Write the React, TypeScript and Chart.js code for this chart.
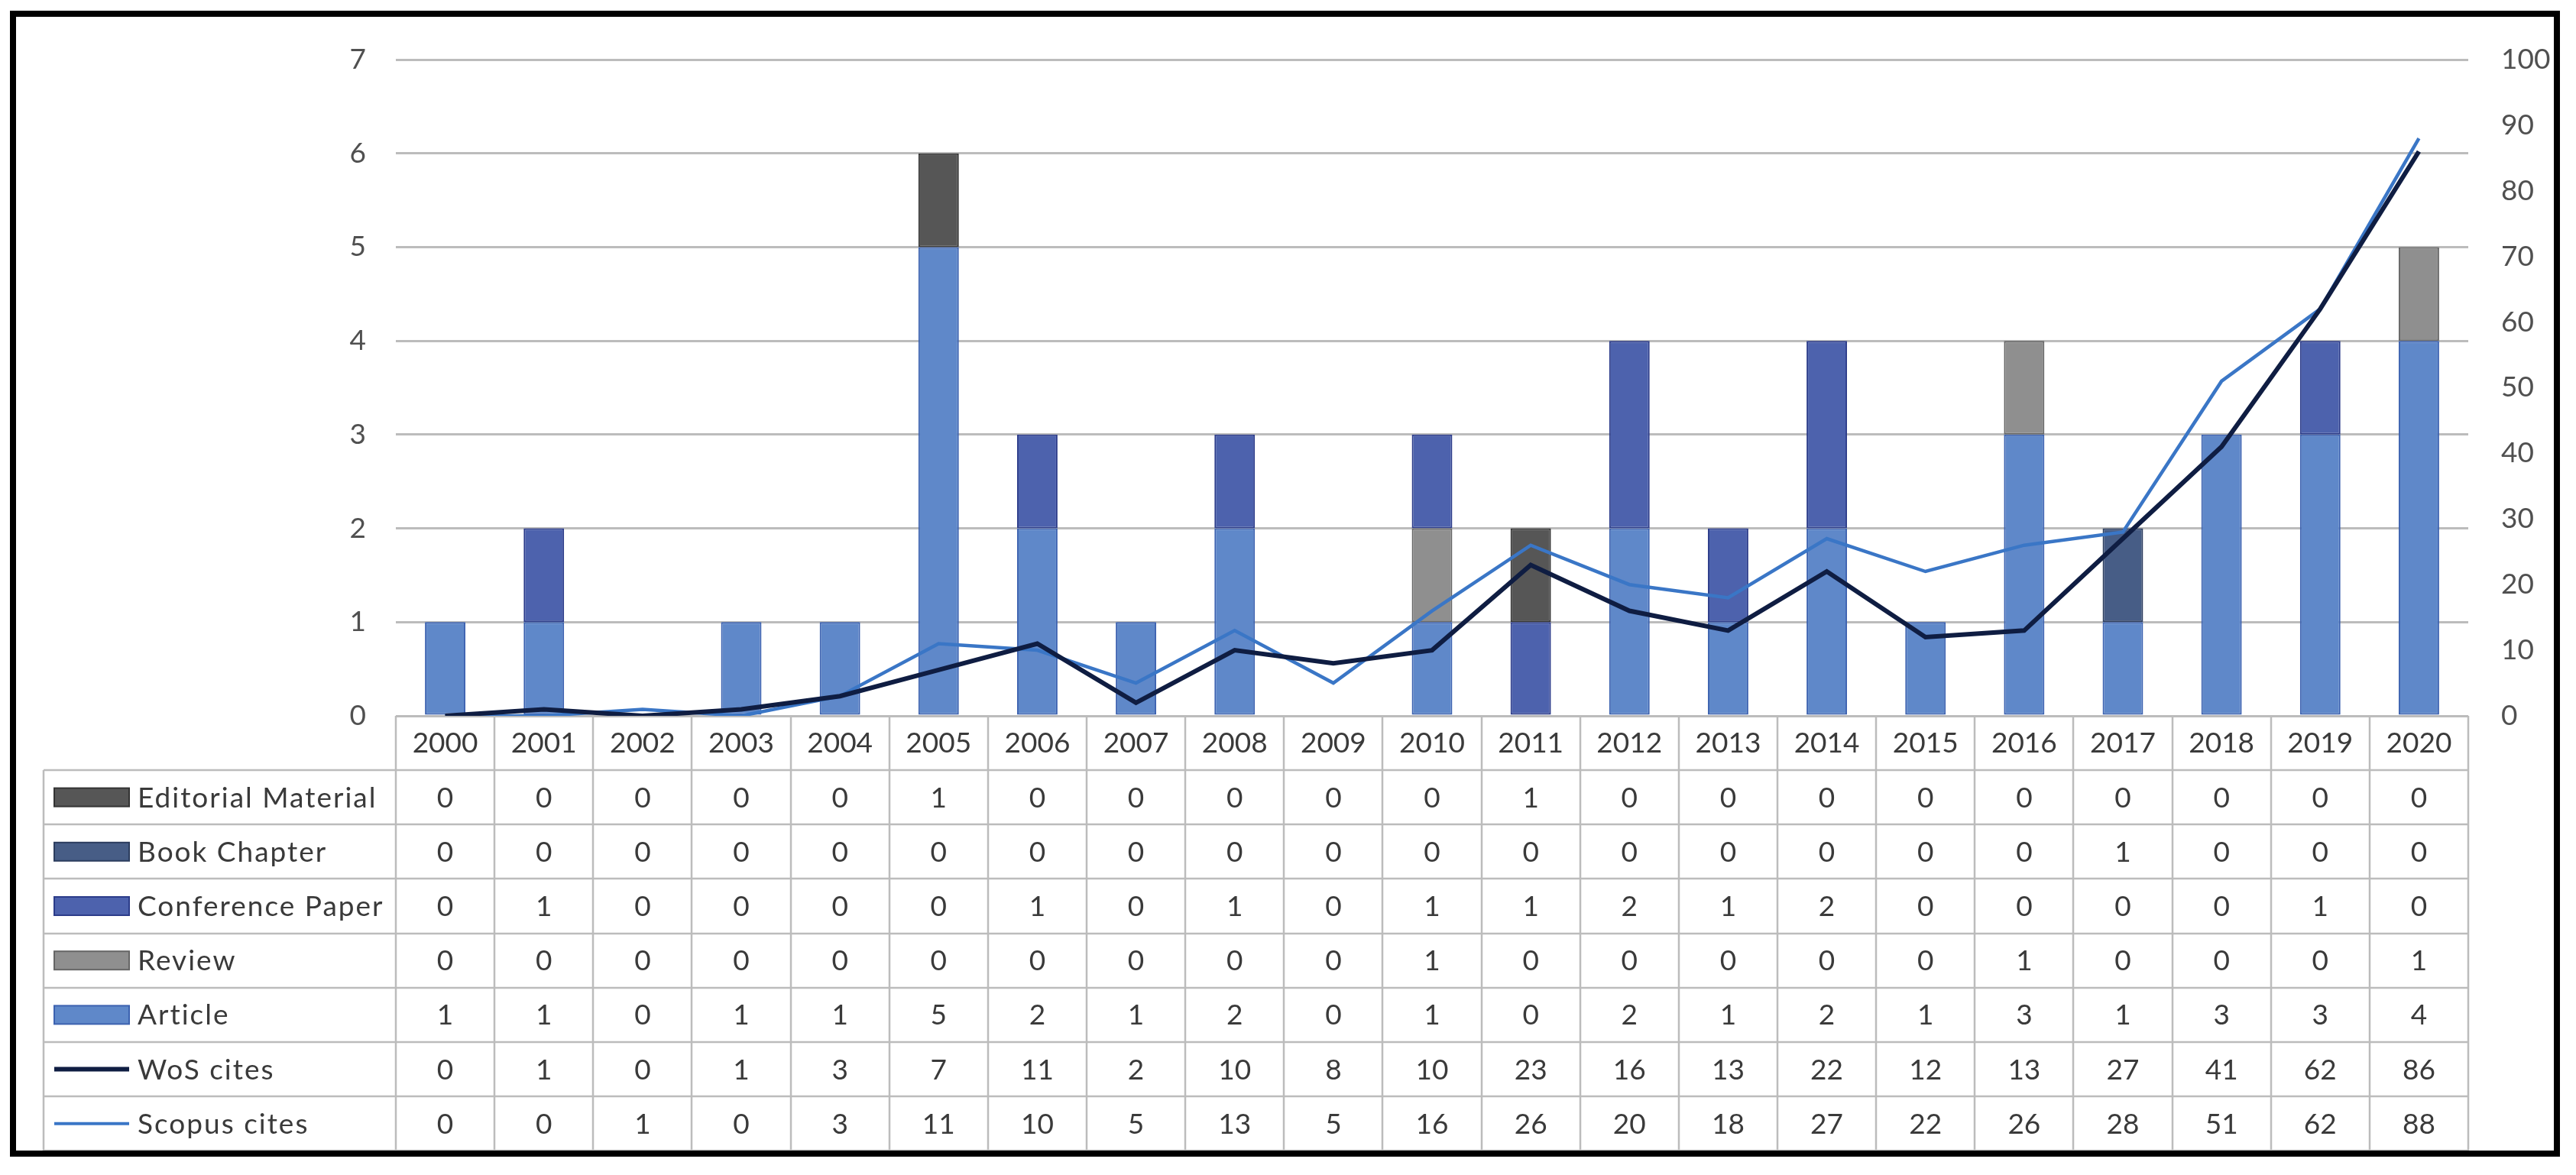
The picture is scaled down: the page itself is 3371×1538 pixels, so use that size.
import React, { useEffect, useRef } from "react";
import { Chart, registerables } from "chart.js";

Chart.register(...registerables);

const years = ["2000","2001","2002","2003","2004","2005","2006","2007","2008","2009","2010","2011","2012","2013","2014","2015","2016","2017","2018","2019","2020"];
const editorialMaterial = [0,0,0,0,0,1,0,0,0,0,0,1,0,0,0,0,0,0,0,0,0];
const bookChapter = [0,0,0,0,0,0,0,0,0,0,0,0,0,0,0,0,0,1,0,0,0];
const conferencePaper = [0,1,0,0,0,0,1,0,1,0,1,1,2,1,2,0,0,0,0,1,0];
const review = [0,0,0,0,0,0,0,0,0,0,1,0,0,0,0,0,1,0,0,0,1];
const article = [1,1,0,1,1,5,2,1,2,0,1,0,2,1,2,1,3,1,3,3,4];
const wosCites = [0,1,0,1,3,7,11,2,10,8,10,23,16,13,22,12,13,27,41,62,86];
const scopusCites = [0,0,1,0,3,11,10,5,13,5,16,26,20,18,27,22,26,28,51,62,88];
const leftTicks = [0,1,2,3,4,5,6,7];
const rightTicks = [0,10,20,30,40,50,60,70,80,90,100];

const FONT = "Lato";
const TEXT = "#3a3a3a";
const AXIS_TEXT = "#505050";
const GRID = "#bcbcbc";

const C = {
  editorial: { fill: "#565656", stroke: "#333333" },
  book: { fill: "#475d86", stroke: "#2c3d5e" },
  conf: { fill: "#4d62ad", stroke: "#2c3c8a" },
  review: { fill: "#8f8f8f", stroke: "#666666" },
  article: { fill: "#5f88c9", stroke: "#3c62b0" },
  wos: "#0f1d42",
  scopus: "#3a76c6",
};

export default function App() {
  const ref = useRef<HTMLCanvasElement>(null);
  useEffect(() => {
    const canvas = ref.current!;
    const rows = [
      { label: "Editorial Material", values: editorialMaterial, kind: "bar", fill: C.editorial.fill, stroke: C.editorial.stroke },
      { label: "Book Chapter", values: bookChapter, kind: "bar", fill: C.book.fill, stroke: C.book.stroke },
      { label: "Conference Paper", values: conferencePaper, kind: "bar", fill: C.conf.fill, stroke: C.conf.stroke },
      { label: "Review", values: review, kind: "bar", fill: C.review.fill, stroke: C.review.stroke },
      { label: "Article", values: article, kind: "bar", fill: C.article.fill, stroke: C.article.stroke },
      { label: "WoS cites", values: wosCites, kind: "line", fill: C.wos, stroke: C.wos, lw: 6 },
      { label: "Scopus cites", values: scopusCites, kind: "line", fill: C.scopus, stroke: C.scopus, lw: 4 },
    ];
    const tablePlugin = {
      id: "dataTable",
      beforeDraw(chart: any) {
        const { ctx, width, height } = chart;
        ctx.save();
        ctx.fillStyle = "#ffffff";
        ctx.fillRect(0, 0, width, height);
        ctx.restore();
      },
      afterDraw(chart: any) {
        const ctx = chart.ctx as CanvasRenderingContext2D;
        const area = chart.chartArea;
        const xs = chart.scales.x;
        const left = area.left;
        const right = area.right;
        const colW = (right - left) / years.length;
        const headerTop = area.bottom;
        const headerBottom = headerTop + 71;
        const rowH = 71.2;
        const tableLeft = 57;
        const tableBottom = headerBottom + rowH * rows.length;
        ctx.save();
        ctx.strokeStyle = GRID;
        ctx.lineWidth = 2.5;
        for (let i = 0; i <= years.length; i++) {
          const x = Math.round(left + i * colW);
          ctx.beginPath();
          ctx.moveTo(x, headerTop);
          ctx.lineTo(x, tableBottom);
          ctx.stroke();
        }
        ctx.beginPath();
        ctx.moveTo(tableLeft, headerBottom);
        ctx.lineTo(tableLeft, tableBottom);
        ctx.stroke();
        for (let r = 0; r <= rows.length; r++) {
          const y = Math.round(headerBottom + r * rowH);
          ctx.beginPath();
          ctx.moveTo(tableLeft, y);
          ctx.lineTo(right, y);
          ctx.stroke();
        }
        ctx.fillStyle = TEXT;
        ctx.font = `37px ${FONT}`;
        ctx.textAlign = "center";
        ctx.textBaseline = "middle";
        years.forEach((yr, i) => {
          ctx.fillText(yr, xs.getPixelForValue(i), (headerTop + headerBottom) / 2 + 1);
        });
        rows.forEach((row, r) => {
          const cy = headerBottom + (r + 0.5) * rowH;
          if (row.kind === "bar") {
            ctx.fillStyle = row.fill;
            ctx.fillRect(71, cy - 12, 98, 24);
            ctx.strokeStyle = row.stroke;
            ctx.lineWidth = 2;
            ctx.strokeRect(71, cy - 12, 98, 24);
          } else {
            ctx.strokeStyle = row.stroke;
            ctx.lineWidth = (row as any).lw;
            ctx.beginPath();
            ctx.moveTo(71, cy);
            ctx.lineTo(169, cy);
            ctx.stroke();
          }
          ctx.fillStyle = TEXT;
          ctx.font = `37px ${FONT}`;
          ctx.textAlign = "left";
          (ctx as any).letterSpacing = "2px";
          ctx.fillText(row.label, 180, cy + 1);
          (ctx as any).letterSpacing = "0px";
          ctx.textAlign = "center";
          row.values.forEach((v, i) => {
            ctx.fillText(String(v), xs.getPixelForValue(i), cy + 1);
          });
        });
        ctx.strokeStyle = "#000000";
        ctx.lineWidth = 8;
        ctx.strokeRect(17, 18, 3329, 1492);
        ctx.restore();
      },
    };

    const chart = new Chart(canvas, {
      type: "bar",
      data: {
        labels: years,
        datasets: [
          { type: "line", label: "WoS cites", data: wosCites, yAxisID: "y1", borderColor: C.wos, borderWidth: 6, pointRadius: 0, tension: 0, order: -1 } as any,
          { type: "line", label: "Scopus cites", data: scopusCites, yAxisID: "y1", borderColor: C.scopus, borderWidth: 4.5, pointRadius: 0, tension: 0, order: 0 } as any,
          { label: "Article", data: article, backgroundColor: C.article.fill, borderColor: C.article.stroke, borderWidth: 2, borderSkipped: false, yAxisID: "y", order: 1 },
          { label: "Review", data: review, backgroundColor: C.review.fill, borderColor: C.review.stroke, borderWidth: 2, borderSkipped: false, yAxisID: "y", order: 1 },
          { label: "Conference Paper", data: conferencePaper, backgroundColor: C.conf.fill, borderColor: C.conf.stroke, borderWidth: 2, borderSkipped: false, yAxisID: "y", order: 1 },
          { label: "Book Chapter", data: bookChapter, backgroundColor: C.book.fill, borderColor: C.book.stroke, borderWidth: 2, borderSkipped: false, yAxisID: "y", order: 1 },
          { label: "Editorial Material", data: editorialMaterial, backgroundColor: C.editorial.fill, borderColor: C.editorial.stroke, borderWidth: 2, borderSkipped: false, yAxisID: "y", order: 1 },
        ],
      },
      options: {
        responsive: false,
        animation: false,
        layout: { padding: { left: 0, right: 0, top: 78, bottom: 601 } },
        datasets: { bar: { barPercentage: 0.41, categoryPercentage: 1 } },
        plugins: { legend: { display: false }, tooltip: { enabled: false } },
        scales: {
          x: { stacked: true, display: false },
          y: {
            stacked: true,
            min: 0,
            max: 7,
            afterBuildTicks: (s: any) => { s.ticks = leftTicks.map((v) => ({ value: v })); },
            ticks: { padding: 39, font: { family: FONT, size: 37 }, color: AXIS_TEXT },
            grid: { color: GRID, lineWidth: 3, drawTicks: false },
            border: { display: false },
            afterFit: (s: any) => { s.width = 518; },
          },
          y1: {
            position: "right",
            min: 0,
            max: 100,
            afterBuildTicks: (s: any) => { s.ticks = rightTicks.map((v) => ({ value: v })); },
            ticks: { padding: 43, font: { family: FONT, size: 37 }, color: AXIS_TEXT },
            grid: { display: false, drawTicks: false },
            border: { display: false },
            afterFit: (s: any) => { s.width = 141; },
          },
        },
      },
      plugins: [tablePlugin],
    } as any);
    return () => chart.destroy();
  }, []);
  return (
    <div style={{ position: "fixed", left: 0, top: 0, width: 3371, height: 1538, background: "#fff" }}>
      <canvas ref={ref} width={3371} height={1538} style={{ width: 3371, height: 1538, display: "block" }} />
    </div>
  );
}
